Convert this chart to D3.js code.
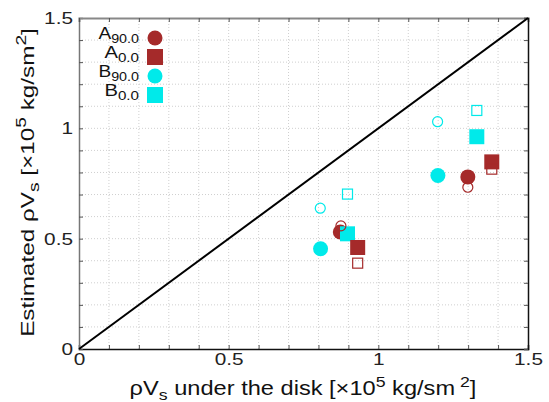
<!DOCTYPE html>
<html><head><meta charset="utf-8">
<script src="https://cdn.jsdelivr.net/npm/d3@7"></script>
<style>body{margin:0;background:#fff;}svg{display:block;font-family:"Liberation Sans",Arial,sans-serif;}</style>
</head><body>
<svg id="c" width="549" height="402"></svg>
<script>
// Data
const seriesNames = ["A90.0", "A0.0", "B90.0", "B0.0"];
const seriesColors = ["#a52a2a", "#a52a2a", "#00eaea", "#00eaea"];
const seriesShapes = ["circle", "square", "circle", "square"];
// filled markers (x = under the disk, y = estimated)
const filledA90 = [[0.873, 0.530], [1.299, 0.780]];
const filledA0  = [[0.931, 0.460], [1.379, 0.848]];
const filledB90 = [[0.807, 0.454], [1.199, 0.786]];
const filledB0  = [[0.897, 0.522], [1.329, 0.962]];
// open markers
const openA90 = [[0.875, 0.558], [1.299, 0.733]];
const openA0  = [[0.931, 0.389], [1.379, 0.815]];
const openB90 = [[0.806, 0.638], [1.198, 1.030]];
const openB0  = [[0.897, 0.702], [1.329, 1.081]];
const tickLabels = [0, 0.5, 1, 1.5];
const minorTicks = d3.range(0, 1.51, 0.1);

const svg = d3.select("#c");
const L = 79, R = 528, T = 18, B = 349;
const x = d3.scaleLinear().domain([0, 1.5]).range([L, R]);
const y = d3.scaleLinear().domain([0, 1.5]).range([B, T]);

// stretch a text horizontally (in its own frame) around anchor ax
function stretch(node, k, ax, ay) {
  d3.select(node).attr("transform", `translate(${ax},${ay || 0}) scale(${k},1) translate(${-ax},${-(ay || 0)})`);
}
function stretchTo(node, target, ax, ay) {
  const w = node.getBBox().width;
  stretch(node, target / w, ax, ay);
}

// grid
const g = svg.append("g");
g.selectAll(".gx").data(minorTicks.slice(1, -1)).enter().append("line")
  .attr("x1", d => x(d)).attr("x2", d => x(d)).attr("y1", T).attr("y2", B)
  .attr("stroke", "#cfcfcf").attr("stroke-width", 1).attr("stroke-dasharray", "1,2");
g.selectAll(".gy").data(minorTicks.slice(1, -1)).enter().append("line")
  .attr("y1", d => y(d)).attr("y2", d => y(d)).attr("x1", L).attr("x2", R)
  .attr("stroke", "#cfcfcf").attr("stroke-width", 1).attr("stroke-dasharray", "1,2");

// axes with inward ticks
const fmt = d => (tickLabels.includes(+d.toFixed(2)) ? d3.format("")(+d.toFixed(2)) : "");
const axB = svg.append("g").attr("transform", `translate(0,${B})`)
  .call(d3.axisBottom(x).tickValues(minorTicks).tickSize(-4).tickPadding(8).tickFormat(fmt));
const axL = svg.append("g").attr("transform", `translate(${L},0)`)
  .call(d3.axisLeft(y).tickValues(minorTicks).tickSize(-4).tickPadding(6).tickFormat(fmt));
const axT = svg.append("g").attr("transform", `translate(0,${T})`)
  .call(d3.axisTop(x).tickValues(minorTicks).tickSize(-4).tickFormat(""));
const axR = svg.append("g").attr("transform", `translate(${R},0)`)
  .call(d3.axisRight(y).tickValues(minorTicks).tickSize(-4).tickFormat(""));
[axB, axL, axT, axR].forEach(a => {
  a.selectAll("text").attr("font-size", 16).attr("fill", "#222").attr("font-family", "Liberation Sans, Arial, sans-serif");
  a.selectAll(".tick line").attr("stroke", "#555");
});
axL.selectAll(".tick text").attr("dy", "0.35em").each(function () { stretch(this, 1.3, -6, 0); });
axB.selectAll(".tick text").attr("y", 16).attr("dy", 0).each(function () { stretch(this, 1.3, 0, 0); });
axB.select(".domain").attr("stroke", "#111").attr("stroke-width", 1.5);
axR.select(".domain").attr("stroke", "#111").attr("stroke-width", 1.5);
axT.select(".domain").attr("stroke", "#888").attr("stroke-width", 2);
axL.select(".domain").attr("stroke", "#777").attr("stroke-width", 1.5);

// diagonal
svg.append("line").attr("x1", x(0)).attr("y1", y(0)).attr("x2", x(1.5)).attr("y2", y(1.5))
  .attr("stroke", "#000").attr("stroke-width", 2);

// markers
function drawMarkers(data, color, shape, filled, size) {
  const grp = svg.append("g");
  data.forEach(d => {
    const cx = x(d[0]), cy = y(d[1]);
    let el;
    if (shape === "circle") {
      el = grp.append("circle").attr("cx", cx).attr("cy", cy).attr("r", size / 2);
    } else {
      el = grp.append("rect").attr("x", cx - size / 2).attr("y", cy - size / 2).attr("width", size).attr("height", size);
    }
    if (filled) el.attr("fill", color);
    else el.attr("fill", "none").attr("stroke", color).attr("stroke-width", 1.2);
  });
}
drawMarkers(filledA90, seriesColors[0], "circle", true, 15);
drawMarkers(filledB90, seriesColors[2], "circle", true, 15);
drawMarkers(filledB0, seriesColors[3], "square", true, 15);
drawMarkers(filledA0, seriesColors[1], "square", true, 15);
drawMarkers(openA90, seriesColors[0], "circle", false, 10);
drawMarkers(openA0, seriesColors[1], "square", false, 10);
drawMarkers(openB90, seriesColors[2], "circle", false, 10);
drawMarkers(openB0, seriesColors[3], "square", false, 10);

// legend
const legY = [38, 57, 76, 95];
const legW = [41, 35, 41, 35];
seriesNames.forEach((n, i) => {
  const base = n[0], sub = n.slice(1);
  const t = svg.append("text").attr("x", 139).attr("y", legY[i] + 1.5).attr("text-anchor", "end")
    .attr("font-size", 16).attr("fill", "#111");
  t.append("tspan").text(base);
  t.append("tspan").attr("font-size", 12).attr("dy", 3.5).text(sub);
  stretchTo(t.node(), legW[i], 139, 0);
  if (seriesShapes[i] === "circle") {
    svg.append("circle").attr("cx", 155).attr("cy", legY[i]).attr("r", 7.5).attr("fill", seriesColors[i]);
  } else {
    svg.append("rect").attr("x", 147).attr("y", legY[i] - 8).attr("width", 16).attr("height", 16).attr("fill", seriesColors[i]);
  }
});

// axis titles
const xt = svg.append("text").attr("x", 303).attr("y", 395).attr("text-anchor", "middle")
  .attr("font-size", 20).attr("fill", "#111");
xt.append("tspan").text("ρV");
xt.append("tspan").attr("font-size", 15).attr("dy", 5).text("s");
xt.append("tspan").attr("dy", -5).text(" under the disk [×10");
xt.append("tspan").attr("font-size", 15).attr("dy", -8).text("5");
xt.append("tspan").attr("dy", 8).text(" kg/sm");
xt.append("tspan").attr("font-size", 15).attr("dy", -8).text(" 2");
xt.append("tspan").attr("dy", 8).text("]");
stretchTo(xt.node(), 347, 303, 0);

const ytg = svg.append("g").attr("transform", "translate(34,182.5) rotate(-90)");
const yt = ytg.append("text").attr("x", 0).attr("y", 0).attr("text-anchor", "middle")
  .attr("font-size", 19).attr("fill", "#111");
yt.append("tspan").text("Estimated ρV");
yt.append("tspan").attr("font-size", 15).attr("dy", 5).text("s");
yt.append("tspan").attr("dy", -5).text("  [×10");
yt.append("tspan").attr("font-size", 15).attr("dy", -8).text("5");
yt.append("tspan").attr("dy", 8).text(" kg/sm");
yt.append("tspan").attr("font-size", 15).attr("dy", -8).text("2");
yt.append("tspan").attr("dy", 8).text("]");
stretchTo(yt.node(), 309, 0, 0);
</script>
</body></html>
